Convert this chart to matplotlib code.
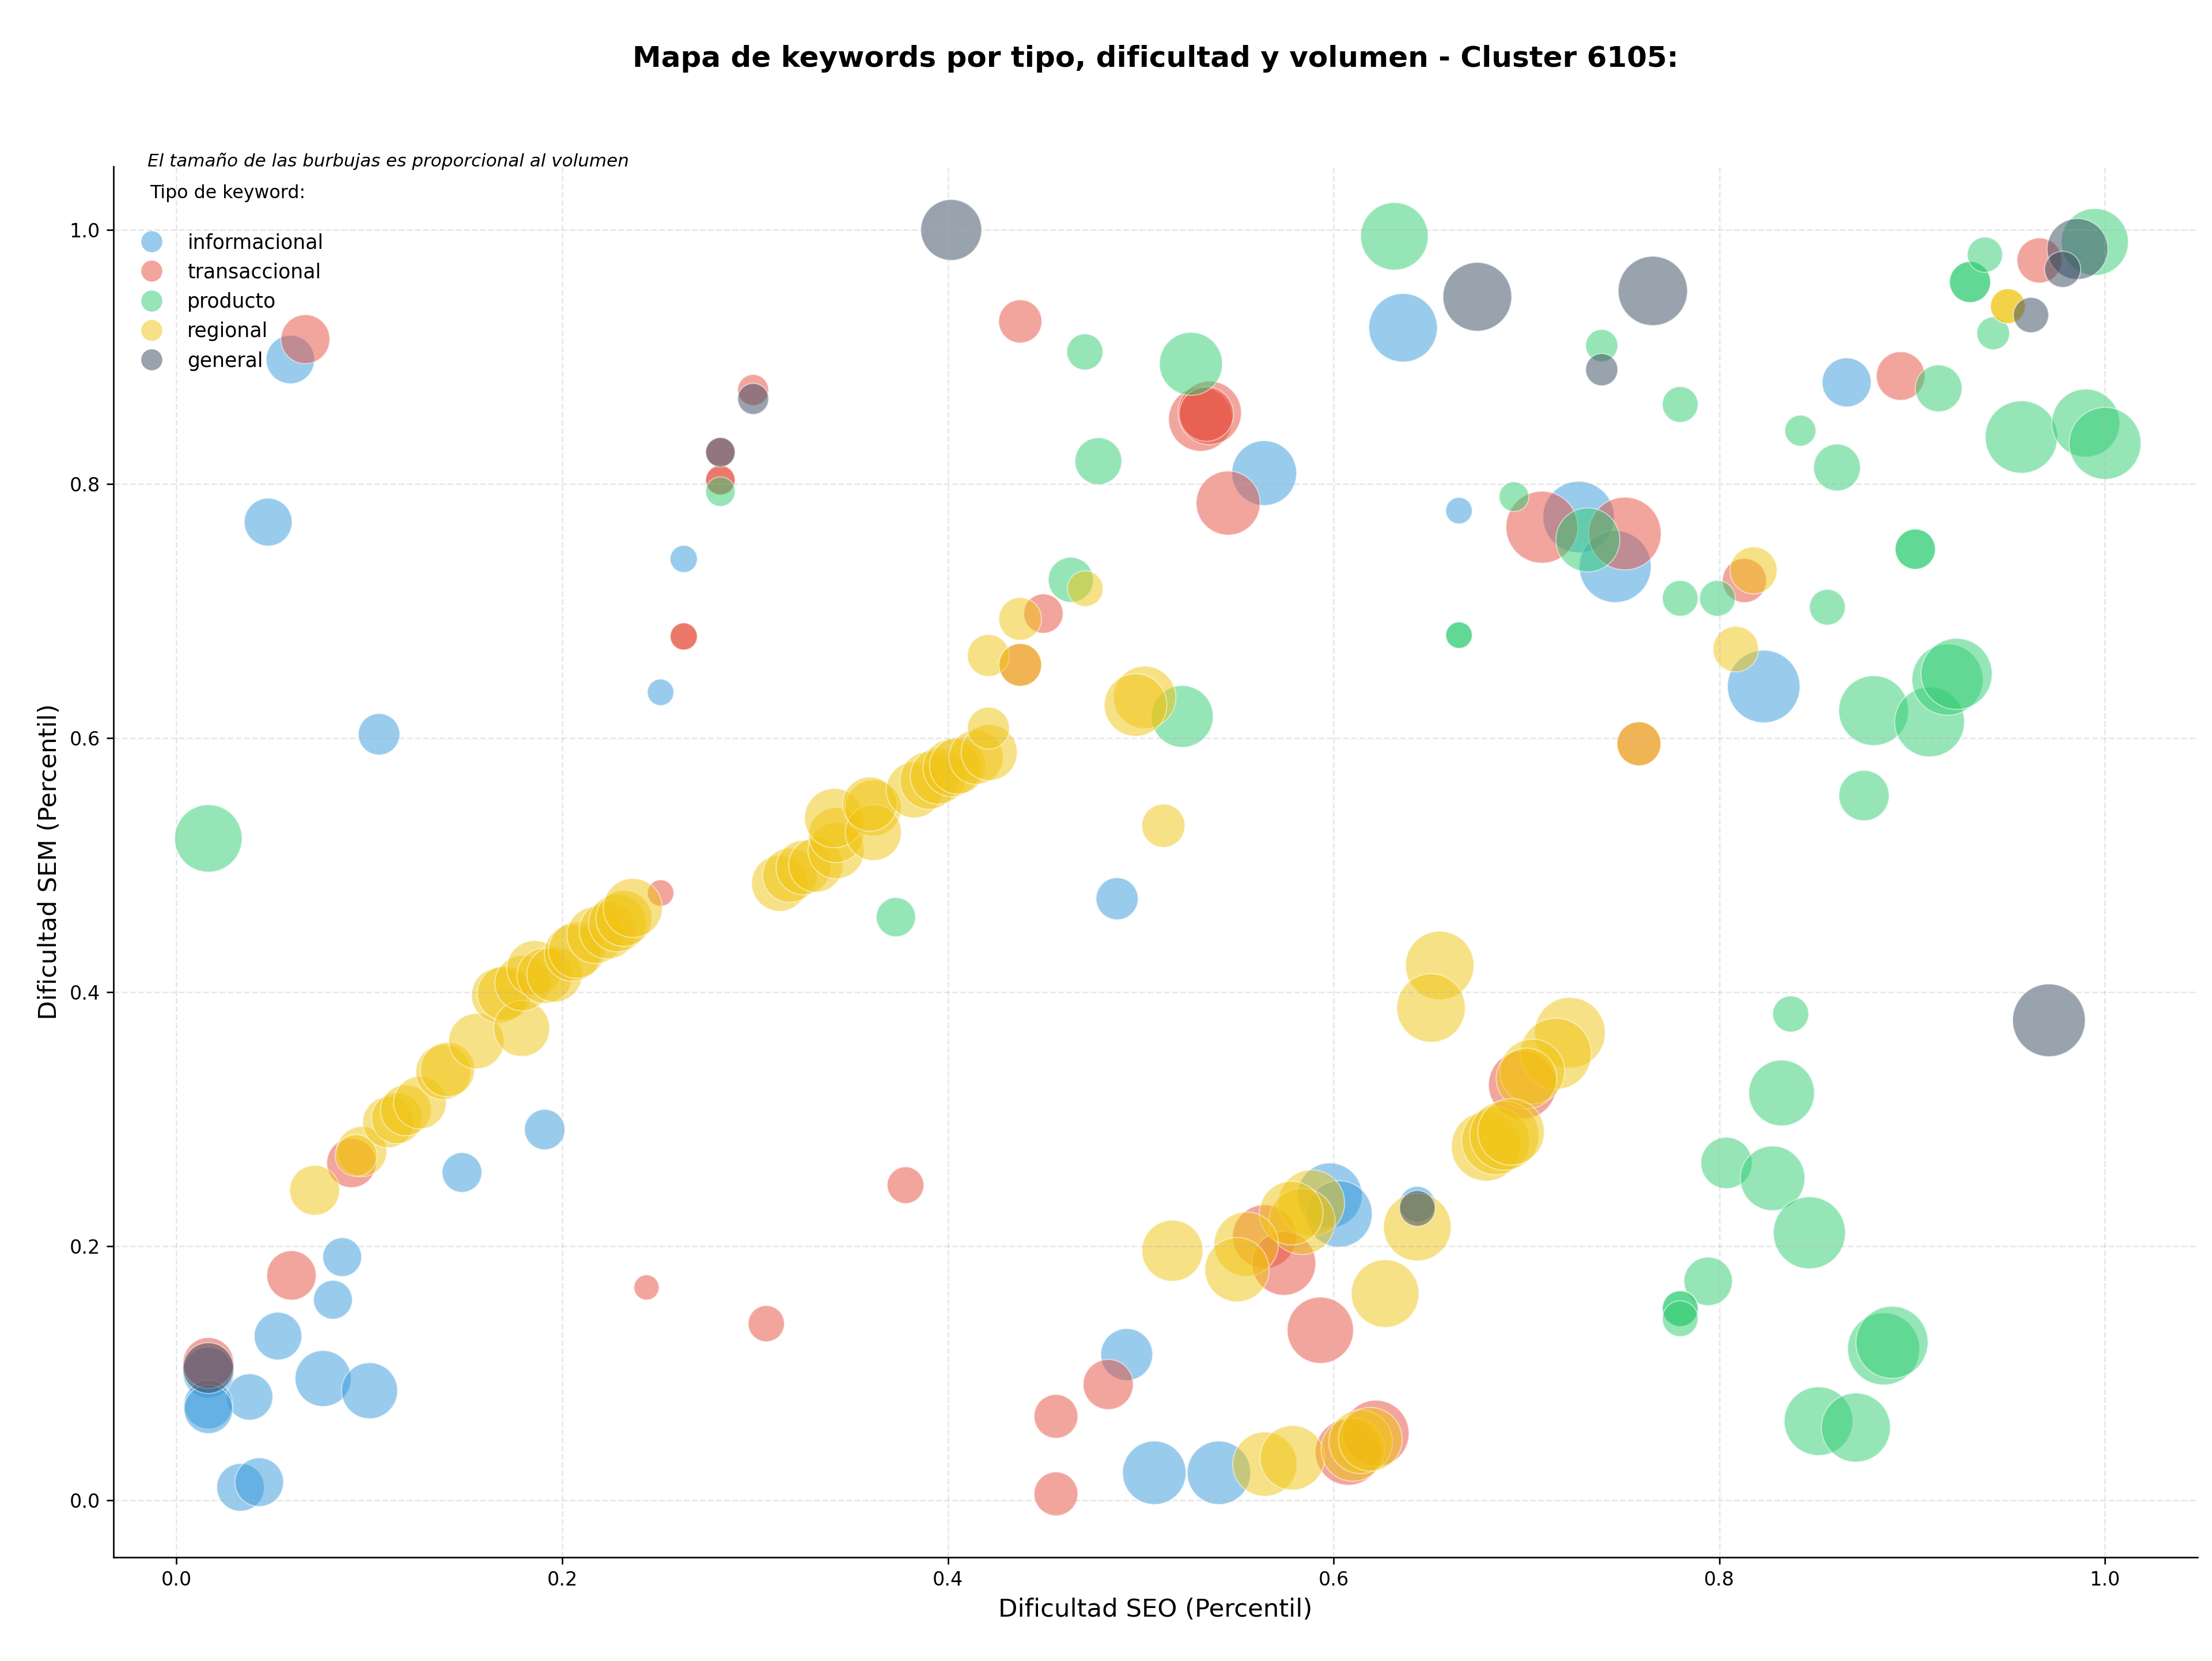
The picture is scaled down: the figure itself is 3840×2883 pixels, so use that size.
import numpy as np
import matplotlib
matplotlib.use("Agg")
import matplotlib.pyplot as plt
from matplotlib.lines import Line2D

# datos: (dificultad SEO, dificultad SEM, tamano burbuja)
info_x = [0.059, 0.0475, 0.105, 0.263, 0.251, 0.1909, 0.148, 0.0859, 0.0811, 0.0526, 0.076, 0.1001,
          0.0379, 0.0165, 0.0165, 0.0165, 0.0332, 0.0429, 0.4877, 0.4927, 0.507, 0.5405, 0.564, 0.636,
          0.665, 0.727, 0.746, 0.598, 0.6028, 0.6434, 0.823, 0.866]
info_y = [0.898, 0.770, 0.603, 0.741, 0.636, 0.2918, 0.258, 0.1914, 0.1578, 0.1292, 0.0958, 0.0862,
          0.0813, 0.1004, 0.0753, 0.0716, 0.0101, 0.0142, 0.4735, 0.1147, 0.0216, 0.0216, 0.8086, 0.923,
          0.779, 0.774, 0.735, 0.240, 0.2254, 0.233, 0.6406, 0.880]
info_s = [635, 620, 466, 200, 190, 443, 428, 408, 408, 615, 850, 850,
          580, 700, 640, 640, 615, 640, 480, 729, 1090, 1090, 1135, 1270,
          190, 1380, 1400, 1135, 1190, 346, 1425, 650]

trans_x = [0.0668, 0.299, 0.282, 0.282, 0.282, 0.263, 0.263, 0.251, 0.4375, 0.4495, 0.531, 0.5357,
           0.534, 0.5453, 0.378, 0.2437, 0.3058, 0.0907, 0.0596, 0.0165, 0.456, 0.456, 0.4831, 0.5641,
           0.5742, 0.5931, 0.6076, 0.6219, 0.698, 0.708, 0.751, 0.813, 0.894, 0.966, 0.7583, 0.4375]
trans_y = [0.914, 0.874, 0.825, 0.803, 0.803, 0.680, 0.680, 0.478, 0.928, 0.698, 0.851, 0.856,
           0.855, 0.785, 0.248, 0.1675, 0.139, 0.2655, 0.177, 0.108, 0.066, 0.005, 0.0911, 0.2075,
           0.1864, 0.1338, 0.0378, 0.0526, 0.327, 0.766, 0.761, 0.724, 0.885, 0.976, 0.5955, 0.6576]
trans_s = [650, 260, 235, 235, 235, 200, 200, 190, 506, 420, 1110, 1090,
           800, 1110, 365, 171, 355, 660, 660, 700, 520, 520, 680, 1100,
           1100, 1190, 1180, 1190, 1260, 1400, 1430, 527, 640, 550, 525, 495]

prod_x = [0.0165, 0.282, 0.373, 0.471, 0.478, 0.526, 0.4637, 0.5215, 0.6315, 0.665, 0.665, 0.6935,
          0.7318, 0.739, 0.7797, 0.7797, 0.799, 0.842, 0.861, 0.856, 0.9016, 0.9016, 0.9137, 0.930,
          0.930, 0.9377, 0.942, 0.9947, 0.9566, 0.990, 1.0, 0.875, 0.880, 0.909, 0.9183, 0.923,
          0.837, 0.8323, 0.8037, 0.8276, 0.8467, 0.7942, 0.7797, 0.7797, 0.7797, 0.8852, 0.8895, 0.8514,
          0.8708]
prod_y = [0.521, 0.794, 0.459, 0.904, 0.818, 0.8946, 0.7246, 0.617, 0.995, 0.681, 0.681, 0.790,
          0.756, 0.909, 0.8626, 0.710, 0.710, 0.842, 0.813, 0.703, 0.7487, 0.7487, 0.8753, 0.959,
          0.959, 0.9805, 0.9186, 0.9905, 0.837, 0.848, 0.832, 0.5547, 0.6216, 0.6127, 0.646, 0.6505,
          0.3828, 0.3206, 0.2655, 0.2534, 0.2105, 0.1723, 0.1508, 0.1508, 0.1429, 0.1191, 0.1243, 0.0622,
          0.0572]
prod_s = [1230, 235, 417, 354, 593, 1075, 550, 1035, 1235, 190, 190, 240,
          1110, 281, 346, 346, 346, 260, 593, 346, 438, 438, 593, 457,
          457, 337, 290, 1215, 1418, 1250, 1400, 686, 1320, 1320, 1370, 1370,
          352, 1170, 713, 1130, 1406, 635, 346, 346, 346, 1406, 1406, 1275,
          1290]

reg_x = [0.0716, 0.096, 0.0931, 0.1097, 0.1143, 0.1189, 0.1262, 0.1383, 0.1405, 0.1555, 0.1673, 0.1700,
         0.179, 0.1794, 0.1856, 0.1909, 0.196, 0.2053, 0.2075, 0.2172, 0.2236, 0.2286, 0.2320, 0.2366,
         0.3127, 0.318, 0.325, 0.3315, 0.342, 0.342, 0.341, 0.3613, 0.3613, 0.3595, 0.3825, 0.390,
         0.395, 0.402, 0.405, 0.4146, 0.4214, 0.421, 0.421, 0.4375, 0.4374, 0.4712, 0.502, 0.4973,
         0.5117, 0.655, 0.6505, 0.7225, 0.7152, 0.703, 0.700, 0.679, 0.684, 0.6885, 0.692, 0.5885,
         0.5836, 0.578, 0.5547, 0.5499, 0.5164, 0.6267, 0.6434, 0.5643, 0.5786, 0.610, 0.614, 0.619,
         0.8085, 0.8177, 0.7583, 0.9496, 0.9496]
reg_y = [0.244, 0.2745, 0.2714, 0.2975, 0.3007, 0.307, 0.313, 0.337, 0.339, 0.3614, 0.3975, 0.3990,
         0.3714, 0.407, 0.4188, 0.4129, 0.414, 0.4307, 0.4330, 0.4449, 0.4485, 0.4544, 0.4580, 0.4662,
         0.4857, 0.492, 0.498, 0.5000, 0.5113, 0.5236, 0.537, 0.545, 0.5256, 0.548, 0.5592, 0.5666,
         0.570, 0.5766, 0.578, 0.585, 0.5886, 0.6078, 0.665, 0.6576, 0.6938, 0.7176, 0.632, 0.626,
         0.531, 0.421, 0.3875, 0.368, 0.3515, 0.3374, 0.332, 0.2785, 0.283, 0.287, 0.290, 0.234,
         0.2195, 0.226, 0.2016, 0.1815, 0.1964, 0.1627, 0.215, 0.0284, 0.0334, 0.040, 0.046, 0.048,
         0.670, 0.732, 0.5955, 0.940, 0.940]
reg_s = [673, 680, 475, 700, 700, 700, 750, 820, 800, 830, 830, 800,
         850, 830, 830, 830, 830, 860, 860, 880, 880, 900, 850, 946,
         850, 800, 800, 800, 850, 820, 950, 850, 850, 800, 850, 900,
         850, 900, 850, 800, 850, 478, 478, 495, 495, 346, 1060, 1060,
         506, 1270, 1270, 1350, 1370, 1140, 1000, 1300, 1250, 1300, 1200, 1190,
         1190, 1100, 1120, 1120, 1010, 1240, 1240, 1120, 1130, 1100, 1100, 1100,
         560, 600, 525, 329, 329]

gen_x = [0.4017, 0.6745, 0.7655, 0.739, 0.9616, 0.9857, 0.978, 0.9709, 0.299, 0.282, 0.0165, 0.6434]
gen_y = [1.0, 0.9474, 0.952, 0.890, 0.933, 0.985, 0.969, 0.3778, 0.867, 0.825, 0.104, 0.2297]
gen_s = [1004, 1280, 1300, 281, 337, 1004, 354, 1430, 260, 235, 700, 346]

tipos = ["informacional", "transaccional", "producto", "regional", "general"]
colores = ["#3498db", "#e74c3c", "#2ecc71", "#f1c40f", "#34495e"]
series = [(info_x, info_y, info_s), (trans_x, trans_y, trans_s), (prod_x, prod_y, prod_s),
          (reg_x, reg_y, reg_s), (gen_x, gen_y, gen_s)]

fig = plt.figure(figsize=(16, 12.0125), dpi=240)
ax = fig.add_axes([0.0513, 0.0624, 0.9422, 0.8374])

for (x, y, s), c in zip(series, colores):
    ax.scatter(np.array(x), np.array(y), s=np.array(s), c=c, alpha=0.5,
               edgecolors="white", linewidths=0.6)

ax.set_xlim(-0.0327, 1.048)
ax.set_ylim(-0.045, 1.050)
ax.grid(True, linestyle="--", alpha=0.3)
ax.spines["top"].set_visible(False)
ax.spines["right"].set_visible(False)

ax.set_xlabel("Dificultad SEO (Percentil)", fontsize=13)
ax.set_ylabel("Dificultad SEM (Percentil)", fontsize=13)
ax.set_title("Mapa de keywords por tipo, dificultad y volumen - Cluster 6105:",
             fontsize=15, fontweight="bold", pad=52)

# leyenda con marcadores fijos
handles = [Line2D([0], [0], marker="o", linestyle="", markersize=11, markerfacecolor=c,
                  markeredgecolor="none", alpha=0.5, label=t) for t, c in zip(tipos, colores)]
ax.legend(handles=handles, loc="upper left", frameon=False, fontsize=10.4,
          title="Tipo de keyword:\n", title_fontsize=9.5)

ax.text(0.0164, 0.9975, "El tamaño de las burbujas es proporcional al volumen",
        transform=ax.transAxes, fontsize=9.3, style="italic", va="bottom")

fig.savefig("out.png", dpi=240)
